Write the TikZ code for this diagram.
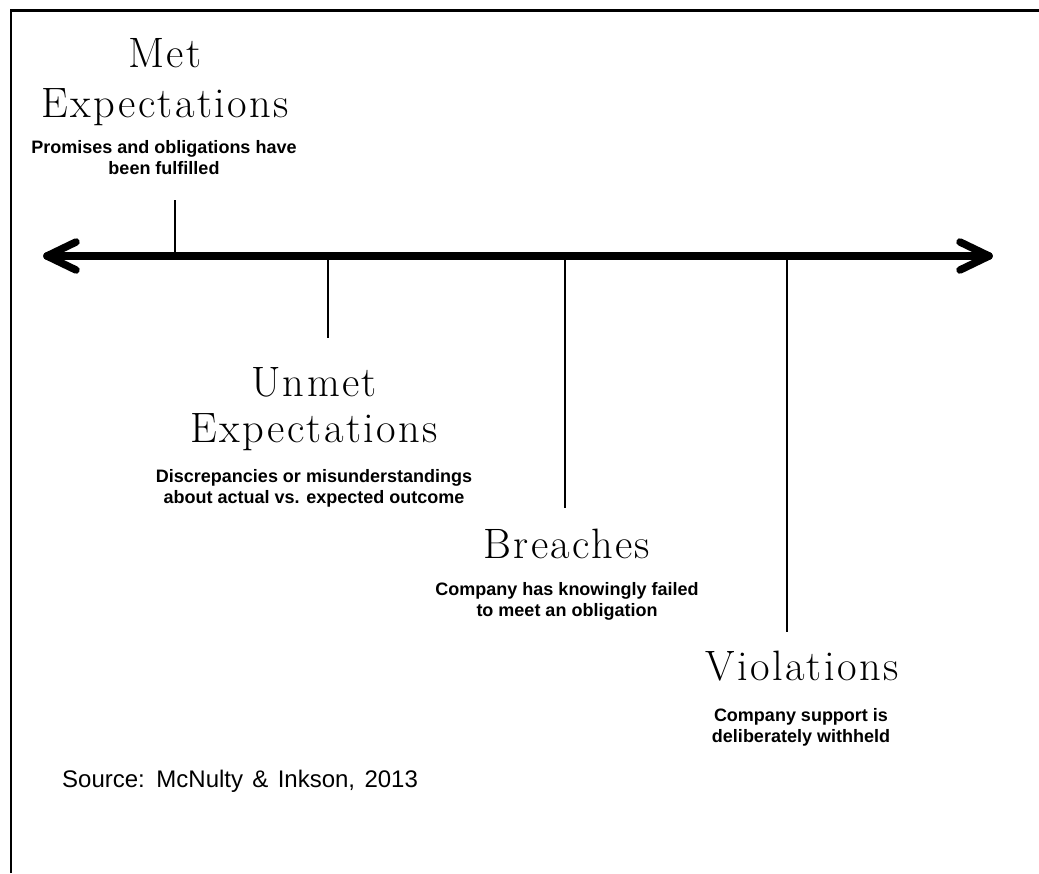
\documentclass[tikz,border=0pt]{standalone}
\usepackage{fontspec}
\setsansfont{Liberation Sans}
\newfontfamily\ttlfont{Latin Modern Roman}[LetterSpace=5.5]
\newfontfamily\srcfont{Liberation Sans}[WordSpace=1.4]
\begin{document}
\begin{tikzpicture}[x=1pt,y=-1pt,
  frame/.style={line width=2.5pt},
  axis/.style={line width=7.5pt, line cap=round, line join=round},
  tick/.style={line width=2pt},
  ttl/.style={font=\ttlfont\fontsize{42.5}{50}\selectfont, align=center, inner sep=0pt, anchor=base},
  desc/.style={font=\sffamily\bfseries\fontsize{18}{21}\selectfont, align=center, inner sep=0pt, anchor=base},
  src/.style={font=\srcfont\fontsize{24}{27}\selectfont, anchor=base west, inner sep=0pt}]
\useasboundingbox (0,0) rectangle (1039,873);
% frame (top and left edges only)
\coordinate (fBL) at (11,873);
\coordinate (fTL) at (11,10.5);
\coordinate (fTR) at (1039,10.5);
\draw[frame] (fBL) -- (fTL) -- (fTR);
% axis
\coordinate (aL) at (47,256);
\coordinate (aR) at (989,256);
\draw[axis] (aL) -- (aR);
\draw[axis] ([shift={(29,-14)}]aL) -- (aL) -- ([shift={(29,14)}]aL);
\draw[axis] ([shift={(-29,-14)}]aR) -- (aR) -- ([shift={(-29,14)}]aR);
% ticks
\coordinate (t1a) at (175,256); \coordinate (t1b) at (175,200);
\coordinate (t2a) at (328,256); \coordinate (t2b) at (328,338);
\coordinate (t3a) at (565,256); \coordinate (t3b) at (565,508);
\coordinate (t4a) at (787,256); \coordinate (t4b) at (787,632);
\draw[tick] (t1a) -- (t1b);
\draw[tick] (t2a) -- (t2b);
\draw[tick] (t3a) -- (t3b);
\draw[tick] (t4a) -- (t4b);
% labels (anchor base = baseline of the last line)
\node[ttl] (met) at (165,117) {Met\\Expectations};
\node[desc] (metd) at (164,174) {Promises and obligations have\\been fulfilled};
\node[ttl, font=\ttlfont\fontsize{42.5}{46}\selectfont] (unmet) at (314,442) {Unmet\\Expectations};
\node[desc] (unmetd) at (314,503) {Discrepancies or misunderstandings\\about actual vs. expected outcome};
\node[ttl] (br) at (567,558) {Breaches};
\node[desc] (brd) at (567,616) {Company has knowingly failed\\to meet an obligation};
\node[ttl] (vi) at (802,680) {Violations};
\node[desc] (vid) at (801,742) {Company support is\\deliberately withheld};
\node[src] (src) at (62,787) {Source: McNulty \& Inkson, 2013};
\end{tikzpicture}
\end{document}
